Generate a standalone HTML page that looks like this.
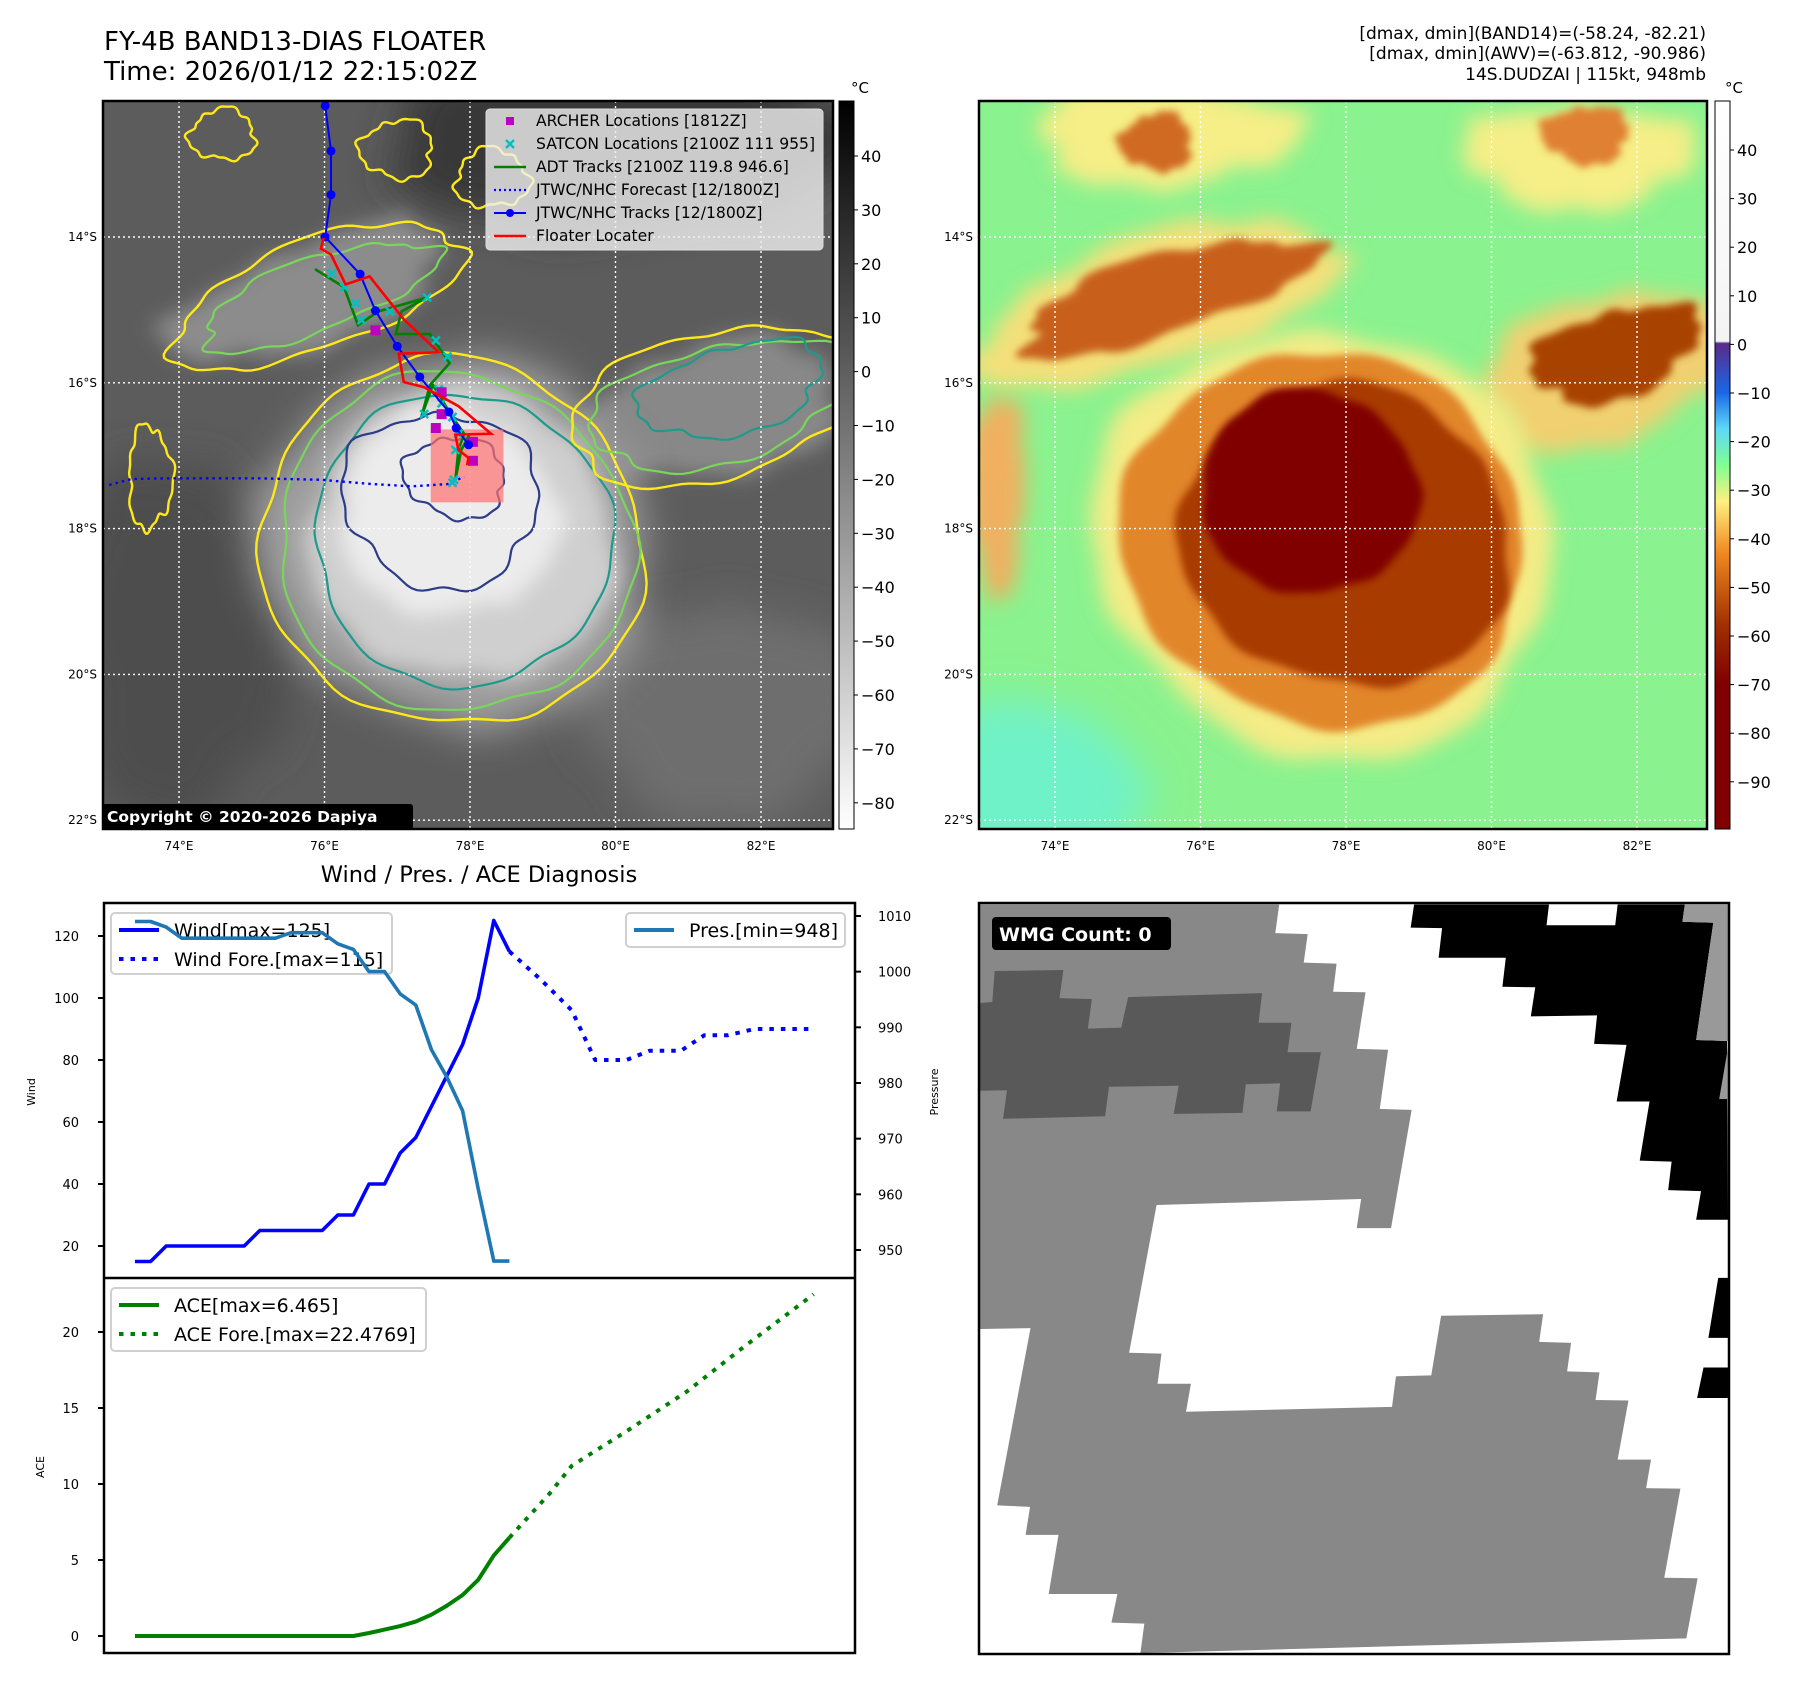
<!DOCTYPE html>
<html><head><meta charset="utf-8">
<style>
html,body{margin:0;padding:0;background:#fff;}
svg{display:block;font-family:"DejaVu Sans","Liberation Sans",sans-serif;}
</style></head>
<body>
<svg id="root" width="1797" height="1690" viewBox="0 0 1797 1690" xmlns="http://www.w3.org/2000/svg">
<defs>
  <clipPath id="clipL"><rect x="103" y="101" width="730" height="728"/></clipPath>
  <clipPath id="clipR"><rect x="979" y="101" width="728" height="728"/></clipPath>
  <filter id="b4" x="-20%" y="-20%" width="140%" height="140%"><feGaussianBlur stdDeviation="4"/></filter>
  <filter id="b10" x="-30%" y="-30%" width="160%" height="160%"><feGaussianBlur stdDeviation="10"/></filter>
  <filter id="b20" x="-40%" y="-40%" width="180%" height="180%"><feGaussianBlur stdDeviation="20"/></filter>
  <linearGradient id="cbL" x1="0" y1="0" x2="0" y2="1">
    <stop offset="0" stop-color="#000"/><stop offset="1" stop-color="#fff"/>
  </linearGradient>
  <linearGradient id="cbR" x1="0" y1="0" x2="0" y2="1">
    <stop offset="0" stop-color="#ffffff"/>
    <stop offset="0.33" stop-color="#f4f4f4"/>
    <stop offset="0.333" stop-color="#5a2a8a"/>
    <stop offset="0.40" stop-color="#1a66e6"/>
    <stop offset="0.45" stop-color="#5cd8f8"/>
    <stop offset="0.50" stop-color="#80ff90"/>
    <stop offset="0.55" stop-color="#fff080"/>
    <stop offset="0.62" stop-color="#f08a20"/>
    <stop offset="0.72" stop-color="#a03000"/>
    <stop offset="0.80" stop-color="#800000"/>
    <stop offset="1" stop-color="#800000"/>
  </linearGradient>
</defs>

<text x="104" y="50" font-size="26" fill="#000">FY-4B BAND13-DIAS FLOATER</text>
<text x="104" y="80" font-size="26" fill="#000">Time: 2026/01/12 22:15:02Z</text>
<text x="1706" y="39" font-size="17" text-anchor="end">[dmax, dmin](BAND14)=(-58.24, -82.21)</text>
<text x="1706" y="59" font-size="17" text-anchor="end">[dmax, dmin](AWV)=(-63.812, -90.986)</text>
<text x="1706" y="80" font-size="17" text-anchor="end">14S.DUDZAI | 115kt, 948mb</text>

<g id="leftMap"></g>
<g id="rightMap"></g>
<g id="charts"></g>
<g id="wmg"></g>
</svg>
<script>
// ---------- chart data ----------
const obsIdx = [0,1,2,3,4,5,6,7,8,9,10,11,12,13,14,15,16,17,18,19,20,21,22,23,24];
const windObs = [15,15,20,20,20,20,20,20,25,25,25,25,25,30,30,40,40,50,55,65,75,85,100,125,115];
const presObs = [1009,1009,1008,1006,1006,1006,1006,1006,1006,1006,1007,1007,1007,1005,1004,1000,1000,996,994,986,981,975,961,948,948];
const aceObs = [0,0,0,0,0,0,0,0,0,0,0,0,0,0,0,0.2,0.42,0.65,0.95,1.4,2.0,2.7,3.7,5.3,6.465];
const fcWindIdx = [24,26,28,29.5,31.5,33,35,36.5,38,39.7,43.5];
const fcWind = [115,106,96,80,80,83,83,88,88,90,90];
const fcAceIdx = [24,26.6,28,31.7,35.4,39,43.5];
const fcAce = [6.465,9.4,11.2,13.6,16.1,19,22.48];
const windTicks = [20,40,60,80,100,120];
const presTicks = [950,960,970,980,990,1000,1010];
const aceTicks = [0,5,10,15,20];
const lonTicks = [74,76,78,80,82];
const latTicks = [14,16,18,20,22];
const cbLTicks = [40,30,20,10,0,-10,-20,-30,-40,-50,-60,-70,-80];
const cbRTicks = [40,30,20,10,0,-10,-20,-30,-40,-50,-60,-70,-80,-90];
const jtwcLon = [76.01,76.09,76.09,76.01,76.49,76.70,77.0,77.31,77.71,77.81,77.98];
const jtwcLat = [12.20,12.82,13.42,14.0,14.51,15.01,15.50,15.92,16.40,16.62,16.85];
const fcTrackLon = [73.04,73.35,73.9,75.09,75.95,76.66,77.21,77.69,77.92];
const fcTrackLat = [17.40,17.32,17.31,17.31,17.33,17.39,17.42,17.39,17.29];
const floaterLon = [75.99,75.95,76.09,76.29,76.62,77.09,77.57,77.37,77.02,77.09,77.37,77.84,78.29,77.80,77.84,77.98,77.96];
const floaterLat = [14.01,14.16,14.24,14.65,14.54,15.13,15.58,15.59,15.60,15.99,16.06,16.32,16.70,16.71,16.92,17.03,17.13];
const adtLon = [75.87,76.27,76.46,76.74,77.41,77.06,76.98,77.45,77.72,77.45,77.33,77.49,77.76,77.92,77.84,77.80,77.88,78.0];
const adtLat = [14.44,14.69,15.21,15.02,14.83,15.02,15.33,15.33,15.73,16.03,16.47,16.03,16.47,16.70,16.92,17.33,16.92,16.70];
const satconLon = [76.27,76.43,76.51,76.9,77.41,77.53,77.69,77.57,77.37,77.61,77.76,77.84,77.80,77.78,77.76,76.1];
const satconLat = [14.69,14.91,15.14,15.02,14.83,15.42,15.64,16.09,16.43,16.28,16.47,16.70,16.92,17.33,17.37,14.5];
const archerLon = [76.70,77.61,77.61,77.53,78.04,78.04];
const archerLat = [15.28,16.13,16.43,16.62,16.81,17.07];

const NS='http://www.w3.org/2000/svg';
function el(tag, attrs, parent){const e=document.createElementNS(NS,tag);for(const k in attrs)e.setAttribute(k,attrs[k]);parent.appendChild(e);return e;}
function txt(s, attrs, parent){const e=el('text',attrs,parent);e.textContent=s;return e;}

function lonX(lon, off){return 179+(lon-74)*72.75+(off||0);}
function latY(lat){return 237+(lat-14)*72.9;}
function blob(cx,cy,rx,ry,rot,amp,seed){
  let d='';const n=120;const c=Math.cos(rot),s=Math.sin(rot);
  for(let i=0;i<=n;i++){const t=i/n*Math.PI*2;
    const r=1+amp*(0.5*Math.sin(3*t+seed)+0.3*Math.sin(7*t+seed*2)+0.2*Math.sin(13*t+seed*3));
    const x0=rx*r*Math.cos(t),y0=ry*r*Math.sin(t);
    d+=(i?'L':'M')+(cx+x0*c-y0*s).toFixed(1)+','+(cy+x0*s+y0*c).toFixed(1);}
  return d+'Z';
}
function gblob(parent,lon,lat,rxd,ryd,rot,amp,seed,attrs,off){
  const a=Object.assign({d:blob(lonX(lon,off),latY(lat),rxd*72.75,ryd*72.9,rot,amp,seed)},attrs);
  return el('path',a,parent);
}

// ---------- left IR map ----------
const L=document.getElementById('leftMap');
const Lc=el('g',{'clip-path':'url(#clipL)'},L);
el('rect',{x:103,y:101,width:730,height:728,fill:'#5c5c5c'},Lc);
gblob(Lc,80,12.6,3.2,1.3,0,0.15,1,{fill:'#383838',filter:'url(#b20)'});
gblob(Lc,74,19.5,1.6,2.5,0,0.15,2,{fill:'#4e4e4e',filter:'url(#b20)'});
gblob(Lc,81.5,20.5,2,1.5,0,0.15,3,{fill:'#6e6e6e',filter:'url(#b20)'});
gblob(Lc,75.8,14.8,2.0,0.7,-0.35,0.2,4,{fill:'#8c8c8c',filter:'url(#b10)'});
gblob(Lc,81.3,16.4,1.9,0.9,-0.2,0.2,5,{fill:'#888',filter:'url(#b10)'});
gblob(Lc,77.8,18.2,2.7,2.5,0.3,0.08,6,{fill:'#a0a0a0',filter:'url(#b20)'});
gblob(Lc,77.9,18.1,2.1,2.0,0.3,0.08,7,{fill:'#cfcfcf',filter:'url(#b10)'});
gblob(Lc,77.7,17.8,1.5,1.4,0.3,0.1,8,{fill:'#ececec',filter:'url(#b10)'});
const cY={fill:'none',stroke:'#ffe81a','stroke-width':2.4};
const cG={fill:'none',stroke:'#79d65a','stroke-width':2.2};
const cT={fill:'none',stroke:'#1e9a8c','stroke-width':2.2};
const cN={fill:'none',stroke:'#2c3c88','stroke-width':2.2};
gblob(Lc,77.75,18.2,2.65,2.5,0.35,0.05,1,cY);
gblob(Lc,77.8,18.2,2.45,2.3,0.35,0.05,2,cG);
gblob(Lc,77.9,18.15,2.05,2.0,0.35,0.05,3,cT);
gblob(Lc,77.6,17.6,1.35,1.2,0.2,0.12,4,cN);
gblob(Lc,77.8,17.3,0.7,0.55,0.2,0.15,5,cN);
gblob(Lc,75.9,14.8,2.1,0.75,-0.35,0.12,6,cY);
gblob(Lc,75.9,14.8,1.7,0.5,-0.35,0.15,7,cG);
gblob(Lc,81.4,16.3,2.1,1.0,-0.25,0.1,8,cY);
gblob(Lc,81.4,16.3,1.8,0.8,-0.25,0.12,9,cG);
gblob(Lc,81.6,16.1,1.3,0.6,-0.25,0.15,10,cT);
gblob(Lc,77.0,12.8,0.5,0.4,0,0.2,11,cY);
gblob(Lc,74.6,12.6,0.45,0.35,0,0.2,12,cY);
gblob(Lc,78.3,13.2,0.5,0.4,0,0.2,13,cY);
gblob(Lc,73.6,17.3,0.3,0.7,0,0.2,14,cY);
for(const lo of lonTicks){const g=el('line',{x1:lonX(lo),x2:lonX(lo),y1:101,y2:829,stroke:'#fff','stroke-width':1.4,'stroke-dasharray':'2 3'},Lc);}
for(const la of latTicks){const g=el('line',{x1:103,x2:833,y1:latY(la),y2:latY(la),stroke:'#fff','stroke-width':1.4,'stroke-dasharray':'2 3'},Lc);}
el('rect',{x:lonX(77.46),y:latY(16.64),width:72.75,height:72.9,fill:'#ff7070','fill-opacity':0.7},Lc);
function poly(lons,lats,attrs,parent){let d='';lons.forEach((lo,i)=>{d+=(i?'L':'M')+lonX(lo).toFixed(1)+','+latY(lats[i]).toFixed(1);});return el('path',Object.assign({d:d,fill:'none'},attrs),parent);}
const fcT=poly(fcTrackLon,fcTrackLat,{stroke:'#0000ff','stroke-width':2.4,'stroke-dasharray':'2.5 4'},Lc);

const adt=poly(adtLon,adtLat,{stroke:'#008000','stroke-width':2.6},Lc);

satconLon.forEach((lo,i)=>{const x=lonX(lo),y=latY(satconLat[i]);const m=el('path',{d:`M${x-4},${y-4}L${x+4},${y+4}M${x-4},${y+4}L${x+4},${y-4}`,stroke:'#00c0c0','stroke-width':2.5},Lc);
});
archerLon.forEach((lo,i)=>{const m=el('rect',{x:lonX(lo)-5,y:latY(archerLat[i])-5,width:10,height:10,fill:'#c000c0'},Lc);
});
const jt=poly(jtwcLon,jtwcLat,{stroke:'#0000ff','stroke-width':2},Lc);

jtwcLon.forEach((lo,i)=>{const m=el('circle',{cx:lonX(lo),cy:latY(jtwcLat[i]),r:4.5,fill:'#0000ff'},Lc);
});
const fl=poly(floaterLon,floaterLat,{stroke:'#ff0000','stroke-width':2.6},Lc);

const lg=el('g',{},L);


el('rect',{x:486,y:109,width:337,height:141,rx:4,fill:'#f0f0f0','fill-opacity':0.8,stroke:'#ddd'},lg);
const legItems=['ARCHER Locations [1812Z]','SATCON Locations [2100Z 111 955]','ADT Tracks [2100Z 119.8 946.6]','JTWC/NHC Forecast [12/1800Z]','JTWC/NHC Tracks [12/1800Z]','Floater Locater'];
legItems.forEach((s,i)=>{const y=121+i*23;
  if(i==0)el('rect',{x:506,y:y-4,width:8,height:8,fill:'#c000c0'},lg);
  if(i==1)el('path',{d:`M506,${y-4}L514,${y+4}M506,${y+4}L514,${y-4}`,stroke:'#00c0c0','stroke-width':2.5},lg);
  if(i==2)el('line',{x1:494,x2:526,y1:y,y2:y,stroke:'#008000','stroke-width':2.4},lg);
  if(i==3)el('line',{x1:494,x2:526,y1:y,y2:y,stroke:'#0000ff','stroke-width':2.2,'stroke-dasharray':'2 3'},lg);
  if(i==4){el('line',{x1:494,x2:526,y1:y,y2:y,stroke:'#0000ff','stroke-width':2},lg);el('circle',{cx:510,cy:y,r:4,fill:'#0000ff'},lg);}
  if(i==5)el('line',{x1:494,x2:526,y1:y,y2:y,stroke:'#ff0000','stroke-width':2.4},lg);
  const t=txt(s,{x:536,y:y+5,'font-size':15.6},lg);
  
  
});
el('rect',{x:103,y:101,width:730,height:728,fill:'none',stroke:'#000','stroke-width':2.5},L);
el('rect',{x:102,y:804,width:311,height:25,rx:3,fill:'#000'},L);
txt('Copyright © 2020-2026 Dapiya',{x:107,y:822,'font-size':15.5,'font-weight':'bold',fill:'#fff'},L);
function mapLabels(parent,off,latx){
  lonTicks.forEach(lo=>{const t=txt(lo+'°E',{x:lonX(lo,off),y:850,'font-size':12,'text-anchor':'middle'},parent);});
  latTicks.forEach(la=>{const t=txt(la+'°S',{x:latx,y:latY(la)+4,'font-size':12,'text-anchor':'end'},parent);});
}
mapLabels(L,0,97);
el('rect',{x:839,y:101,width:15,height:728,fill:'url(#cbL)',stroke:'#000','stroke-width':1},L);
txt('°C',{x:851,y:93,'font-size':15},L);
cbLTicks.forEach(v=>{const y=156+(40-v)*5.39;el('line',{x1:854,x2:858,y1:y,y2:y,stroke:'#000'},L);
 const t=txt(String(v).replace('-','\u2212'),{x:861,y:y+6,'font-size':16},L);});

// ---------- right AWV map ----------
const R=document.getElementById('rightMap');const O=876;
const Rc=el('g',{'clip-path':'url(#clipR)'},R);
el('rect',{x:979,y:101,width:728,height:728,fill:'#8af28e'},Rc);
gblob(Rc,73.6,21.6,1.6,1.2,0,0.1,1,{fill:'#6ff2c8',filter:'url(#b20)'},O);
gblob(Rc,75.5,12.6,1.8,0.7,0,0.2,2,{fill:'#f6ee86',filter:'url(#b10)'},O);
gblob(Rc,81.2,12.9,1.6,0.7,0,0.2,3,{fill:'#f6ee86',filter:'url(#b10)'},O);
gblob(Rc,81.3,12.6,0.6,0.4,0,0.2,4,{fill:'#e08030',filter:'url(#b4)'},O);
gblob(Rc,75.4,12.7,0.5,0.4,0,0.2,5,{fill:'#d06a20',filter:'url(#b4)'},O);
gblob(Rc,75.4,14.9,2.6,0.9,-0.3,0.15,6,{fill:'#f4e07a',filter:'url(#b10)'},O);
gblob(Rc,75.5,14.8,2.1,0.55,-0.3,0.2,7,{fill:'#c8601c',filter:'url(#b4)'},O);
gblob(Rc,81.6,15.8,1.8,1.0,-0.3,0.15,8,{fill:'#f0d070',filter:'url(#b10)'},O);
gblob(Rc,81.7,15.6,1.2,0.6,-0.3,0.2,9,{fill:'#a84200',filter:'url(#b4)'},O);
gblob(Rc,73.2,17.5,0.4,1.4,0,0.2,10,{fill:'#f0b060',filter:'url(#b10)'},O);
gblob(Rc,77.7,18.2,3.2,2.9,0.35,0.06,11,{fill:'#f4ec86',filter:'url(#b10)'},O);
gblob(Rc,77.7,18.15,2.8,2.55,0.35,0.05,12,{fill:'#e2862c',filter:'url(#b4)'},O);
gblob(Rc,78.0,18.1,2.3,2.05,0.35,0.06,13,{fill:'#a83a00',filter:'url(#b4)'},O);
gblob(Rc,77.5,17.5,1.5,1.4,0.2,0.05,14,{fill:'#800000',filter:'url(#b4)'},O);
for(const lo of lonTicks){el('line',{x1:lonX(lo,O),x2:lonX(lo,O),y1:101,y2:829,stroke:'#fff','stroke-width':1.4,'stroke-dasharray':'2 3'},Rc);}
for(const la of latTicks){el('line',{x1:979,x2:1707,y1:latY(la),y2:latY(la),stroke:'#fff','stroke-width':1.4,'stroke-dasharray':'2 3'},Rc);}
el('rect',{x:979,y:101,width:728,height:728,fill:'none',stroke:'#000','stroke-width':2.5},R);
mapLabels(R,O,973);
el('rect',{x:1715,y:101,width:15,height:728,fill:'url(#cbR)',stroke:'#000','stroke-width':1},R);
txt('°C',{x:1725,y:93,'font-size':15},R);
cbRTicks.forEach(v=>{const y=150+(40-v)*4.86;el('line',{x1:1730,x2:1734,y1:y,y2:y,stroke:'#000'},R);
 const t=txt(String(v).replace('-','\u2212'),{x:1737,y:y+6,'font-size':16},R);});

// ---------- diagnosis charts ----------
const C=document.getElementById('charts');
const X0=135, DX=15.6;
function xi(i){return X0+i*DX;}
function wy(w){return 1246-(w-20)*3.1;}
function py(p){return 1250-(p-950)*5.567;}
function ay(a){return 1636-a*15.2;}
function line(xs,ys,fx,fy,attrs){let d='';xs.forEach((x,i)=>{d+=(i?'L':'M')+xi(x).toFixed(1)+','+fy(ys[i]).toFixed(1);});return el('path',Object.assign({d:d,fill:'none','stroke-linejoin':'round'},attrs),C);}
function legend(x,y,w,h,items){const g=el('g',{},C);
 
 
 el('rect',{x:x,y:y,width:w,height:h,rx:4,fill:'#fff','fill-opacity':0.8,stroke:'#d0d0d0','stroke-width':2},g);
 items.forEach((it,i)=>{const yy=y+17+i*29;
  el('line',{x1:x+8,x2:x+48,y1:yy,y2:yy,stroke:it[1],'stroke-width':4,'stroke-dasharray':it[2]?'4.5 7':'none'},g);
  txt(it[0],{x:x+63,y:yy+7,'font-size':19},g);});}
txt('Wind / Pres. / ACE Diagnosis',{x:479,y:882,'font-size':22.5,'text-anchor':'middle'},C);
const wl=line(obsIdx,windObs,null,wy,{stroke:'#0000ff','stroke-width':3.6});

const wf=line(fcWindIdx,fcWind,null,wy,{stroke:'#0000ff','stroke-width':4,'stroke-dasharray':'4.5 7'});

legend(111,913,281,61,[['Wind[max=125]','#0000ff',0],['Wind Fore.[max=115]','#0000ff',1]]);
const pl=line(obsIdx,presObs,null,py,{stroke:'#1f77b4','stroke-width':3.6});

legend(626,913,219,34,[['Pres.[min=948]','#1f77b4',0]]);
const al=line(obsIdx,aceObs,null,ay,{stroke:'#008000','stroke-width':4});

const af=line(fcAceIdx,fcAce,null,ay,{stroke:'#008000','stroke-width':4,'stroke-dasharray':'4.5 7'});

legend(111,1288,315,63,[['ACE[max=6.465]','#008000',0],['ACE Fore.[max=22.4769]','#008000',1]]);
el('rect',{x:104,y:903,width:751,height:750,fill:'none',stroke:'#000','stroke-width':2.5},C);
el('line',{x1:104,x2:855,y1:1278,y2:1278,stroke:'#000','stroke-width':2.5},C);
windTicks.forEach(v=>{const y=wy(v);el('line',{x1:98,x2:104,y1:y,y2:y,stroke:'#000','stroke-width':2},C);
 const t=txt(String(v),{x:79,y:y+5,'font-size':13,'text-anchor':'end'},C);});
presTicks.forEach(v=>{const y=py(v);el('line',{x1:855,x2:861,y1:y,y2:y,stroke:'#000','stroke-width':2},C);
 const t=txt(String(v),{x:878,y:y+5,'font-size':13},C);});
aceTicks.forEach(v=>{const y=ay(v);el('line',{x1:98,x2:104,y1:y,y2:y,stroke:'#000','stroke-width':2},C);
 const t=txt(String(v),{x:79,y:y+5,'font-size':13,'text-anchor':'end'},C);});
txt('Wind',{x:0,y:0,'font-size':11,'text-anchor':'middle',transform:'translate(35,1092) rotate(-90)'},C);
txt('Pressure',{x:0,y:0,'font-size':11,'text-anchor':'middle',transform:'translate(938,1092) rotate(-90)'},C);
txt('ACE',{x:0,y:0,'font-size':11,'text-anchor':'middle',transform:'translate(44,1467) rotate(-90)'},C);

// ---------- WMG panel ----------
const W=document.getElementById('wmg');
const Wg=el('g',{transform:'translate(975.1,899.6) scale(0.4905,0.4925)'},W);
el('rect',{x:8,y:7,width:1529,height:1525,fill:'#fff'},Wg);
const P=(pts,fill,name)=>{const p=el('polygon',{points:pts,fill:fill},Wg);};
P('10,10 620,10 612,68 678,70 670,128 737,130 730,187 796,188 778,303 842,305 825,425 890,427 848,667 778,667 787,608 370,620 314,920 380,922 372,983 440,983 430,1040 850,1030 858,968 930,966 950,845 1158,842 1150,898 1215,900 1207,958 1273,960 1265,1016 1332,1017 1310,1137 1378,1137 1368,1195 1438,1196 1405,1377 1473,1378 1450,1500 337,1530 345,1470 278,1468 290,1410 150,1410 170,1290 103,1290 112,1233 45,1230 113,870 10,872','#888888','wmg-gray-region');
P('40,145 180,143 172,200 238,202 230,262 298,260 312,198 585,190 578,250 645,250 637,310 705,310 684,430 615,430 622,373 552,375 545,433 405,435 415,378 273,380 265,440 57,445 65,387 10,388 10,210 35,208','#595959','wmg-dark-region');
P('895,10 1170,10 1165,52 1305,52 1310,10 1447,10 1442,45 1505,47 1470,285 1533,287 1535,650 1470,650 1480,592 1413,590 1420,532 1355,530 1375,410 1308,410 1328,295 1262,293 1268,235 1133,237 1142,178 1075,177 1082,118 945,118 952,58 888,57','#000','wmg-black-region');
P('1447,10 1535,10 1535,287 1470,285 1505,47 1442,45','#999','wmg-light-region');
P('1535,300 1517,405 1535,405','#999','wmg-light-region');
P('1515,768 1535,768 1535,890 1495,890','#000','wmg-black-region');
P('1485,950 1535,950 1535,1012 1472,1012','#000','wmg-black-region');
el('rect',{x:979,y:903,width:750,height:751,fill:'none',stroke:'#000','stroke-width':2.5},W);
el('rect',{x:992,y:917,width:179,height:33,rx:4,fill:'#000'},W);
txt('WMG Count: 0',{x:999,y:941,'font-size':19,'font-weight':'bold',fill:'#fff'},W);
</script>
</body></html>
